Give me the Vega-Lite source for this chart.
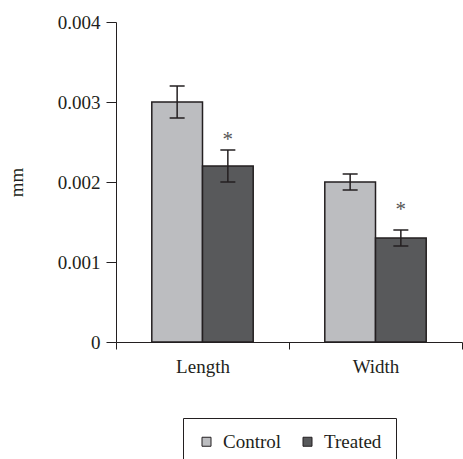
{
  "$schema": "https://vega.github.io/schema/vega-lite/v6.json",
  "width": 346,
  "height": 320,
  "autosize": "none",
  "padding": {"left": 116, "top": 22, "right": 1, "bottom": 117},
  "background": "white",
  "config": {
    "font": "Liberation Serif, Times New Roman, serif",
    "view": {"stroke": null},
    "legend": {"labelFont": "Liberation Serif, Times New Roman, serif", "labelFontSize": 19, "labelColor": "#231f20"},
    "text": {"font": "Liberation Serif, Times New Roman, serif"},
    "axis": {
      "domainColor": "#231f20",
      "tickColor": "#231f20",
      "labelColor": "#231f20",
      "titleColor": "#231f20",
      "labelFont": "Liberation Serif, Times New Roman, serif",
      "titleFont": "Liberation Serif, Times New Roman, serif",
      "labelFontSize": 19,
      "titleFontSize": 19,
      "titleFontWeight": "normal",
      "grid": false,
      "domainWidth": 1,
      "tickWidth": 1
    }
  },
  "data": {
    "values": [
      {"measure": "Length", "group": "Control", "mean": 0.003, "low": 0.0028, "high": 0.0032, "star": null},
      {"measure": "Length", "group": "Treated", "mean": 0.0022, "low": 0.002, "high": 0.0024, "star": 0.00252},
      {"measure": "Width", "group": "Control", "mean": 0.002, "low": 0.0019, "high": 0.0021, "star": null},
      {"measure": "Width", "group": "Treated", "mean": 0.0013, "low": 0.0012, "high": 0.0014, "star": 0.00165}
    ]
  },
  "encoding": {
    "x": {
      "field": "measure",
      "type": "nominal",
      "sort": ["Length", "Width"],
      "scale": {"paddingInner": 0, "paddingOuter": 0},
      "axis": {"title": null, "labelAngle": 0, "tickBand": "extent", "tickSize": 7, "labelPadding": 8}
    },
    "xOffset": {
      "field": "group",
      "type": "nominal",
      "sort": ["Control", "Treated"],
      "scale": {"paddingInner": 0, "paddingOuter": 0.706}
    }
  },
  "layer": [
    {
      "mark": {"type": "bar", "stroke": "#231f20", "strokeWidth": 1.5},
      "encoding": {
        "y": {
          "field": "mean",
          "type": "quantitative",
          "scale": {"domain": [0, 0.004]},
          "axis": {
            "title": "mm",
            "values": [0, 0.001, 0.002, 0.003, 0.004],
            "format": ".3~f",
            "tickSize": 10,
            "labelPadding": 6,
            "titleAngle": -90,
            "titleX": -100,
            "titleY": 160,
            "titleAlign": "center",
            "titleBaseline": "middle"
          }
        },
        "color": {
          "field": "group",
          "type": "nominal",
          "scale": {"domain": ["Control", "Treated"], "range": ["#bcbdc0", "#58595b"]},
          "legend": {
            "title": null,
            "orient": "none",
            "legendX": 67,
            "legendY": 396,
            "direction": "horizontal",
            "strokeColor": "#231f20",
            "padding": 14,
            "symbolType": "square",
            "symbolSize": 81,
            "symbolStrokeColor": "#231f20",
            "symbolStrokeWidth": 1,
            "symbolOpacity": 1,
            "labelFont": "Liberation Serif, Times New Roman, serif",
            "labelFontSize": 19,
            "labelColor": "#231f20",
            "labelOffset": 7,
            "columnPadding": 16
          }
        }
      }
    },
    {
      "mark": {"type": "rule", "color": "#231f20", "strokeWidth": 1.5},
      "encoding": {
        "y": {"field": "low", "type": "quantitative"},
        "y2": {"field": "high"}
      }
    },
    {
      "mark": {"type": "tick", "color": "#231f20", "size": 15, "thickness": 1.5, "opacity": 1},
      "encoding": {"y": {"field": "low", "type": "quantitative"}}
    },
    {
      "mark": {"type": "tick", "color": "#231f20", "size": 15, "thickness": 1.5, "opacity": 1},
      "encoding": {"y": {"field": "high", "type": "quantitative"}}
    },
    {
      "transform": [{"filter": "datum.star != null"}],
      "mark": {"type": "text", "text": "*", "fontSize": 21, "baseline": "middle", "color": "#555555", "font": "Liberation Serif, Times New Roman, serif"},
      "encoding": {"y": {"field": "star", "type": "quantitative"}}
    }
  ]
}
